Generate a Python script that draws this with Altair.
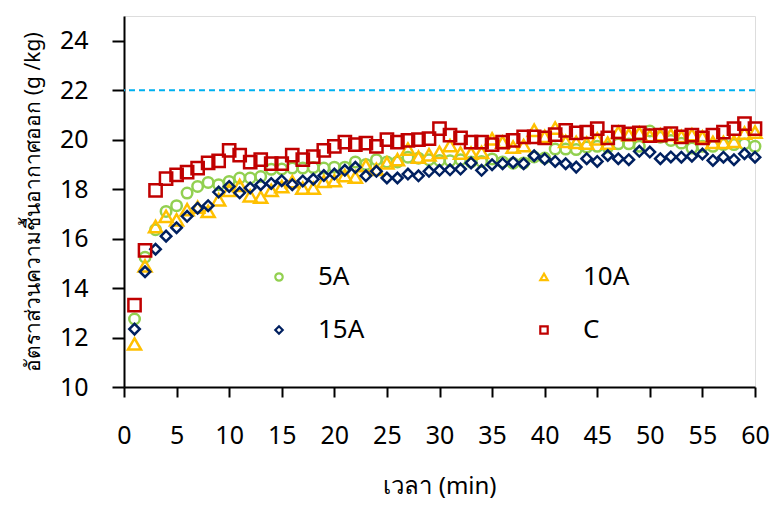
import altair as alt
import pandas as pd

minutes = list(range(1, 61))

s5A = [12.75, 15.25, 16.36, 17.10, 17.33, 17.84, 18.11, 18.27, 18.18, 18.31,
       18.45, 18.45, 18.51, 18.80, 18.81, 18.85, 18.85, 18.87, 18.85, 18.89,
       18.89, 19.10, 19.00, 19.19, 19.10, 19.10, 19.29, 19.25, 19.19, 19.16,
       19.15, 19.19, 19.10, 19.12, 19.22, 19.10, 19.05, 19.06, 19.30, 19.26,
       19.62, 19.62, 19.60, 19.70, 19.73, 19.70, 19.83, 19.83, 19.73, 20.35,
       20.10, 19.97, 19.86, 19.66, 19.73, 19.73, 19.80, 19.80, 19.83, 19.73]

s10A = [11.74, 14.90, 16.49, 16.90, 16.76, 17.17, 17.27, 17.10, 17.57, 17.95,
        18.15, 17.73, 17.68, 17.95, 18.10, 18.30, 18.04, 18.04, 18.31, 18.34,
        18.55, 18.49, 18.95, 18.80, 19.06, 19.19, 19.62, 19.29, 19.39, 19.49,
        19.76, 19.46, 19.46, 19.49, 20.03, 19.90, 19.70, 19.76, 20.38, 20.13,
        20.47, 19.93, 19.89, 19.86, 20.03, 19.86, 20.30, 20.20, 20.27, 20.16,
        20.20, 20.20, 20.13, 20.20, 20.11, 19.89, 19.89, 19.93, 20.27, 20.31]

s15A = [12.34, 14.66, 15.57, 16.10, 16.44, 16.90, 17.23, 17.33, 17.88, 18.11,
        17.85, 18.05, 18.18, 18.23, 18.34, 18.18, 18.33, 18.40, 18.55, 18.61,
        18.76, 18.88, 18.54, 18.72, 18.45, 18.45, 18.61, 18.54, 18.72, 18.76,
        18.78, 18.81, 19.06, 18.76, 18.99, 19.03, 19.08, 19.03, 19.35, 19.22,
        19.12, 19.03, 18.89, 19.23, 19.12, 19.36, 19.23, 19.19, 19.53, 19.50,
        19.23, 19.30, 19.29, 19.33, 19.42, 19.16, 19.29, 19.19, 19.43, 19.29]

sC = [13.31, 15.52, 17.95, 18.42, 18.58, 18.69, 18.85, 19.06, 19.14, 19.57,
      19.37, 19.09, 19.19, 19.03, 19.03, 19.37, 19.19, 19.31, 19.57, 19.73,
      19.90, 19.80, 19.86, 19.73, 20.00, 19.90, 19.97, 20.00, 20.04, 20.45,
      20.18, 20.07, 19.90, 19.90, 19.80, 19.90, 19.97, 20.11, 20.11, 20.07,
      20.20, 20.38, 20.27, 20.31, 20.45, 20.07, 20.31, 20.23, 20.27, 20.16,
      20.18, 20.24, 20.11, 20.18, 20.07, 20.18, 20.30, 20.45, 20.65, 20.45]

series_names = ["5A", "10A", "15A", "C"]
marker_sizes = [110, 170, 110, 150]
# legend is filled column by column, so list it as 5A, 15A | 10A, C
legend_order = ["5A", "15A", "10A", "C"]
legend_colors = ["#92D050", "#002060", "#FFC000", "#C00000"]
legend_shapes = ["circle", "diamond", "triangle-up", "square"]
target_value = [22]

x_ticks = list(range(0, 61, 5))
y_ticks = list(range(10, 25, 2))

rows = []
for i, (name, vals) in enumerate(zip(series_names, [s5A, s10A, s15A, sC])):
    for t, v in zip(minutes, vals):
        rows.append({"t": t, "v": v, "series": name, "idx": i,
                     "sz": marker_sizes[i]})
df = pd.DataFrame(rows)

FONT = "Noto Sans"

x_enc = alt.X("t:Q", scale=alt.Scale(domain=[0, 60], nice=False),
              axis=alt.Axis(values=x_ticks, title="เวลา (min)", grid=False,
                            tickSize=10, labelPadding=26, titlePadding=26,
                            labelFlush=False, labelOverlap=False,
                            labelFontSize=25, titleFontSize=24,
                            titleFontWeight="normal", domainWidth=2,
                            tickWidth=2, domainColor="black", tickColor="black",
                            labelColor="black", titleColor="black",
                            labelFont=FONT, titleFont=FONT))
y_enc = alt.Y("v:Q", scale=alt.Scale(domain=[10, 25], nice=False, zero=False),
              axis=alt.Axis(values=y_ticks, title="อัตราส่วนความชื้นอากาศออก (g /kg)",
                            grid=False, tickSize=12, labelPadding=24,
                            labelFlush=False,
                            titlePadding=16, labelFontSize=25, titleFontSize=21,
                            titleFontWeight="normal", domainWidth=2, tickWidth=2,
                            domainColor="black", tickColor="black",
                            labelColor="black", titleColor="black",
                            labelFont=FONT, titleFont=FONT))

points = alt.Chart(df).mark_point(filled=False, strokeWidth=2.5, opacity=1).encode(
    x=x_enc,
    y=y_enc,
    color=alt.Color("series:N",
                    scale=alt.Scale(domain=legend_order, range=legend_colors),
                    legend=alt.Legend(orient="none", legendX=142, legendY=248,
                                      columns=2, title=None, padding=0,
                                      labelOffset=26, columnPadding=166,
                                      rowPadding=27, symbolSize=55,
                                      symbolStrokeWidth=2.2, labelFontSize=26,
                                      labelFont=FONT, labelColor="black")),
    shape=alt.Shape("series:N",
                    scale=alt.Scale(domain=legend_order, range=legend_shapes)),
    size=alt.Size("sz:Q", scale=None),
    order=alt.Order("idx:Q"),
)

rule = alt.Chart(pd.DataFrame({"y": target_value})).mark_rule(
    color="#00B0F0", strokeDash=[6, 4], strokeWidth=2
).encode(y="y:Q")

chart = alt.layer(rule, points).properties(
    width=631, height=371,
    autosize=alt.AutoSizeParams(type="none"),
    padding={"left": 124, "top": 16, "right": 17, "bottom": 119},
).configure_view(stroke=None).configure(background="white")

chart.save("out.html", embed_options={"renderer": "svg", "actions": False})
